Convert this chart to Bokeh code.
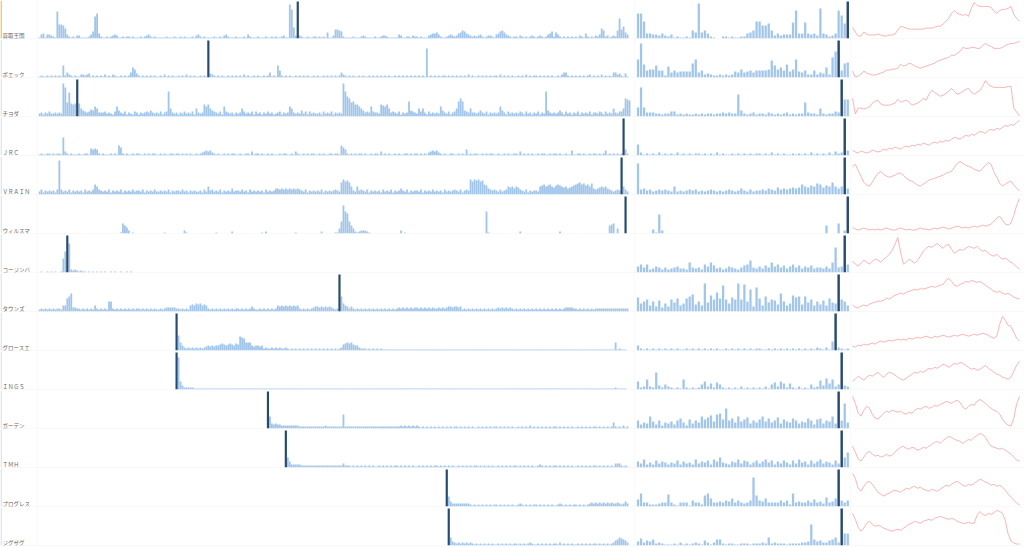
from bokeh.plotting import figure
from bokeh.layouts import gridplot
from bokeh.models import ColumnDataSource, Range1d, Span
from bokeh.core.properties import value
from bokeh.embed import file_html
from bokeh.resources import INLINE

LABELS = ["買取王国", "ポエック", "チヨダ", "ＪＲＣ", "ＶＲＡＩＮ", "ウィルスマ", "コージンバ",
          "タウンズ", "グロースエ", "ＩＮＧＳ", "ガーデン", "ＴＭＨ", "プログレス", "ジグザグ"]

# long history bars (300 per row, base-36 digits, groups of 10)
LONG_01 = "145144321r eeda421213 31111247mp 5211212343 1121221211 1212342121 1111211121 1212111213 4212111121 1213421112 1112142111 2111211212 112311ytb3 z321121122 1212161139 9872111121 1123211112 1123321111 1431122132 2121113455 6421123432 3568754323 2342123321 4578643212 2132121232 1232124572 6421212121 2132152121 324a823123 28k9c64000"
LONG_02 = "1211212121 21c2532121 1332341212 1213121321 1212125a84 2121212121 1213121211 2121312121 12121z4321 2121121212 1213121121 2112125121 c721212112 1212121121 2112121212 1253212121 1212112121 2121212112 1212121212 12121t1212 1212212121 2121213121 1212121212 2131212121 1212131212 2121212121 1213552121 2121212312 1213121215 5342141000"
LONG_03 = "3424353343 43xteodcdz d8654576a8 444534325a 6435243254 2434546434 35245p8434 2435343528 434cac8654 352a543424 3485343525 3424353423 452434a843 4363525343 3425343524 343xpkiefc ca86454a54 43cbac8454 352434f654 3858425343 43a6435245 8fif654844 3464352434 34a6425343 4354253424 35243p6434 3464253424 3524343524 4354253438 43558ihg00"
LONG_04 = "1211221212 21i4212111 2112217676 2121112121 a821211212 2112121221 1212112212 2121212112 1234545321 2112121221 1211221412 2121121211 1212211214 2112121221 1212112212 21a8621212 1221211212 2141212112 1211221212 2121213454 5321211221 1212161212 2112121221 1211212112 2141212121 1212211212 2121121151 1221211212 2121251212 1212z62000"
LONG_05 = "3524343425 y534352434 34253435a8 5434352434 3524343534 4352434353 3434352434 4353424343 3425384534 3524343634 4353425343 4342534346 6565656565 6543524343 4352434345 43cfdec843 8454352434 3425343524 3464352434 4352434353 4342534345 4352454fdf efdea96545 4353458786 8754352434 4389a89a87 9a98786789 abcab9a8b6 5678786543 454z853000"
LONG_06 = "0000000000 0000000000 0000000000 0000000000 01a8630100 0000000000 0001000000 0003100000 0000000001 0000000200 0000000000 0010200000 0000000001 0000000000 0020000001 15csmkc852 1233321000 0000000000 0030100000 0000000000 0000000000 0000000000 00000m1000 0000000000 0020000000 0000000000 0020000000 0000000000 000000089a 05000z0000"
LONG_07 = "0100101010 01elzt3232 1211010101 0101001010 0100101000 0000000000 0000000000 0000000000 0000000000 0000000000 0000000000 0000000000 0000000000 0000000000 0000000000 0000000000 0000000000 0000000000 0000000000 0000000000 0000000000 0000000000 0000000000 0000000000 0000000000 0000000000 0000000000 0000000000 0000000000 0000000000"
LONG_08 = "2323232323 3266dfi443 3232323263 23232aa323 2323232323 3232323232 2323444443 3232326768 7867632323 2323232323 3232323532 2323232323 6565656565 6323232345 5454545432 3zf8653532 3232323232 3232323232 3434343434 4343434343 3434345545 5452323232 3232323232 3434343432 3232323232 3232323232 3232344443 3232323232 3333333333 3333333000"
LONG_09 = "0000000000 0000000000 0000000000 0000000000 0000000000 0000000000 000000000z f853232323 2323454545 5676567657 6edc888545 5452322323 2322321212 1212121212 1212121212 1236787865 5322212121 2121111111 1111111111 1111111111 1111111111 1111111111 1111111111 1111111111 1111111111 1111111111 1111111111 1111111111 1111111111 8121110000"
LONG_10 = "0000000000 0000000000 0000000000 0000000000 0000000000 0000000000 000000000z w842222211 1111111111 1111111111 1111111111 1111111111 1111111111 1111111111 1111111111 1111111111 1111111111 1111111111 1111111111 1111111111 1111111111 1111111111 1111111111 1111111111 1111111111 1111111111 1111111111 1111111111 1111111111 2111110000"
LONG_11 = "0000000000 0000000000 0000000000 0000000000 0000000000 0000000000 0000000000 0000000000 0000000000 0000000000 0000000000 00000zc545 4433333333 3222222222 2222322222 222e222222 2222222222 2222222222 2232323232 3212121212 1212121212 2121212121 1212121212 2121212121 1212121312 1212121212 2121212121 1212121212 2121212126 2121312000"
LONG_12 = "0000000000 0000000000 0000000000 0000000000 0000000000 0000000000 0000000000 0000000000 0000000000 0000000000 0000000000 0000000000 0000za6333 3322222222 2222222222 2224222121 2121212121 1212121212 2121212121 1212121212 2121212121 1212121212 2121212121 1212121212 2121212121 1232121212 2121212121 1212121212 2121212121 4442121000"
LONG_13 = "0000000000 0000000000 0000000000 0000000000 0000000000 0000000000 0000000000 0000000000 0000000000 0000000000 0000000000 0000000000 0000000000 0000000000 0000000000 0000000000 0000000000 0000000000 0000000000 0000000000 00000za533 3333333212 1212121212 2121212121 1232121212 2121212121 1232121212 2121212343 4343434343 3432353000"
LONG_14 = "0000000000 0000000000 0000000000 0000000000 0000000000 0000000000 0000000000 0000000000 0000000000 0000000000 0000000000 0000000000 0000000000 0000000000 0000000000 0000000000 0000000000 0000000000 0000000000 0000000000 000000z843 2323232321 2121212121 1212121212 2121212321 1212121212 2131212121 1212121212 2121212123 5687653000"
LONG_MARK = [130, 85, 19, 294, 293, 295, 14, 151, 69, 69, 115, 124, 205, 206]

# recent bars (70 per row)
MID_01 = "pph5544353 2412112186 z685210022 121122568h hddf835344 4gs55g5453 u54235snfz"
MID_02 = "iyd788c772 b5756666ei 5734322323 2365856757 7778hc8a7d 68i6573373 54a3kqz7ef"
MID_03 = "9t94443323 3552323223 2323323343 433m632342 3324323234 23233e4332 8323354zhh"
MID_04 = "b312121312 1213121212 2121213121 1212121212 2121312121 1212121312 12131423z5"
MID_05 = "v564534545 4383434545 3434543434 5434643534 4546547565 6767a8798b a798c868z6"
MID_06 = "0000041j30 0000000000 0000000000 0000000000 0000000000 0000000000 008000a03z"
MID_07 = "6858346535 3456443a54 5386a74534 6543578c54 6475a68574 6857465745 5464ap56z8"
MID_08 = "e8ac6a5b48 5c9d68dfh7 a6s9gcjdqc 8ecscram5o d6f9cb7ia6 8gef7f9c6a 7b6d98zca6"
MID_09 = "5212121212 1212112121 2121212112 1212121212 2112121212 1212121213 21319z3212"
MID_10 = "823a32h425 32121a2121 2583627521 2121312121 2131573862 6213121523 94b6a35z43"
MID_11 = "8465c74836 5748a63958 6c9bd7ef9k 8a6c79b586 9c7a68b597 6a8576a849 a587c5z8p6"
MID_12 = "6483537465 3547364538 4657386a54 3658476357 4685736475 3748563746 8465374zaf"
MID_13 = "7d44222344 c421444164 42bd844546 58464346tb 6584444646 2d45446474 539458z646"
MID_14 = "4735462321 1121312123 2153136621 2211222122 2328232221 2222334l64 5335683zcc"
MID_MARK = [69, 66, 67, 68, 68, 69, 68, 66, 65, 67, 66, 67, 66, 67]

# price lines (60 points per row)
LINE_01 = [11,6,2,2,6,4,3,3,3,4, 3,2,2,3,3,4,8,12,11,10, 9,9,9,9,9,9,10,10,10,11, 12,12,14,17,20,25,28,25,24,23, 24,22,30,36,33,32,32,32,32,31, 27,25,28,29,29,30,32,24,20,17]
LINE_02 = [6,0,1,3,6,4,3,2,2,3, 4,5,7,7,8,8,9,13,11,12, 14,13,11,10,9,10,11,12,13,14, 16,17,18,19,20,22,22,24,26,30, 29,29,30,30,29,29,32,34,32,31, 29,29,29,30,32,33,34,34,35,36]
LINE_03 = [18,2,8,8,7,8,9,13,15,16, 12,11,11,11,12,13,17,14,15,16, 14,11,12,13,15,18,16,22,26,24, 22,20,21,23,25,28,25,22,23,25, 27,28,24,22,24,26,30,36,32,30, 29,29,29,29,29,30,30,8,4,0]
LINE_04 = [5,3,2,4,3,2,3,5,4,3, 4,6,5,7,6,8,7,6,8,9, 8,10,9,11,10,12,11,10,12,13, 12,14,13,15,14,16,18,17,16,18, 20,19,21,20,22,24,23,22,25,26, 25,27,26,28,30,29,31,30,33,35]
LINE_05 = [28,30,24,18,12,9,8,12,17,21, 23,20,18,17,18,19,21,21,19,16, 14,13,11,9,8,10,12,14,15,16, 17,18,19,21,22,23,27,31,33,31, 29,28,27,25,24,23,26,29,32,30, 22,17,11,8,10,12,13,9,6,3]
LINE_06 = [6,4,3,4,5,4,3,4,3,4, 3,4,5,4,3,3,4,5,4,3, 4,3,3,4,5,4,4,3,4,5, 4,5,6,5,4,5,6,7,6,5, 6,5,6,7,6,7,8,7,8,9, 12,15,17,13,9,8,10,18,28,35]
LINE_07 = [11,8,6,9,12,10,8,11,13,12, 10,13,15,18,22,28,35,20,8,10, 13,11,9,12,16,21,24,26,25,27, 29,26,24,27,28,23,19,21,23,22, 24,26,25,24,26,23,21,22,19,17, 16,18,15,13,14,12,10,8,5,3]
LINE_08 = [6,4,3,5,6,5,7,8,9,10, 10,11,13,12,14,16,17,18,17,19, 20,21,22,21,23,22,23,24,25,24, 25,26,27,31,33,30,26,25,27,28, 30,29,31,30,29,30,28,26,24,22, 20,19,20,18,17,18,16,14,13,12]
LINE_09 = [4,3,5,4,6,5,6,7,6,8, 9,8,9,10,9,10,11,10,11,10, 12,11,12,13,12,13,14,13,12,14, 13,14,15,14,13,14,15,14,15,16, 15,14,15,16,15,16,17,16,15,13, 12,14,26,34,30,25,24,18,12,9]
LINE_10 = [8,10,13,11,9,12,14,13,15,17, 14,12,15,17,16,14,12,10,9,11, 13,15,17,16,18,17,19,21,20,22, 21,23,25,24,22,24,26,25,27,26, 24,22,20,21,19,20,22,24,21,19, 17,15,14,12,11,10,12,18,24,28]
LINE_11 = [32,25,15,12,18,22,20,14,10,9, 12,15,17,16,18,17,16,17,15,14, 16,15,18,20,19,21,22,20,21,23, 22,24,25,27,26,25,27,28,26,21, 19,22,24,23,27,29,27,25,22,20, 18,17,14,9,5,3,2,10,24,32]
LINE_12 = [21,15,8,6,10,14,16,13,11,12, 10,11,13,11,12,15,18,20,21,19, 18,20,19,17,18,20,19,21,23,25, 26,24,27,29,31,30,28,27,26,24, 26,28,27,30,32,34,33,30,25,21, 20,19,18,19,17,15,13,10,7,6]
LINE_13 = [33,28,18,15,20,24,25,22,18,14, 12,10,12,13,15,16,15,14,16,18, 17,19,20,18,19,17,16,15,17,16, 15,17,19,21,20,22,24,25,23,21, 20,22,21,23,25,27,26,24,23,21, 22,20,21,19,16,12,9,6,3,1]
LINE_14 = [32,26,18,14,17,22,24,21,19,20, 19,17,16,15,14,15,16,15,17,19, 21,22,24,23,22,24,25,26,25,27, 28,29,28,27,26,27,26,24,23,22, 22,23,22,22,30,34,31,30,32,31, 33,35,34,32,25,11,4,2,1,1]

LONG_SERIES = [LONG_01, LONG_02, LONG_03, LONG_04, LONG_05, LONG_06, LONG_07,
               LONG_08, LONG_09, LONG_10, LONG_11, LONG_12, LONG_13, LONG_14]
MID_SERIES = [MID_01, MID_02, MID_03, MID_04, MID_05, MID_06, MID_07,
              MID_08, MID_09, MID_10, MID_11, MID_12, MID_13, MID_14]
LINE_SERIES = [LINE_01, LINE_02, LINE_03, LINE_04, LINE_05, LINE_06, LINE_07,
               LINE_08, LINE_09, LINE_10, LINE_11, LINE_12, LINE_13, LINE_14]

LIGHT = "#a2c6ea"
DARK = "#264a70"
LINE_COLOR = "#f7a8a8"
SEP = "#e8e8e8"
LABEL_COLOR = "#666666"
SELECTED = "#f4c04e"
STRIP = "#dde3ea"
ROW_H = 39
TOP = 38


def decode(s, n):
    vals = [int(c, 36) for c in s.replace(" ", "")]
    return (vals + [0] * n)[:n]


def cell(width, xr, yr, right_border):
    p = figure(width=width, height=ROW_H, x_range=xr, y_range=yr,
               x_axis_type=None, y_axis_type=None, toolbar_location=None,
               output_backend="svg", min_border_left=0, min_border_right=right_border,
               min_border_top=0, min_border_bottom=1, border_fill_color=SEP,
               background_fill_color="white", outline_line_color=None)
    return p


def bars(p, values, mark, width_light, width_dark):
    xs = [i for i in range(len(values)) if i != mark]
    tops = [values[i] for i in xs]
    p.vbar(x="x", top="top", width=width_light, bottom=0,
           source=ColumnDataSource(dict(x=xs, top=tops)),
           fill_color=LIGHT, line_color=None)
    p.vbar(x=[mark], top=[TOP - 1], width=width_dark, bottom=0,
           fill_color=DARK, line_color=None)


rows = []
for r, name in enumerate(LABELS):
    lab = cell(38, Range1d(0, 37), Range1d(0, TOP), 1)
    lab.add_layout(Span(location=0.6, dimension="height",
                        line_color=SELECTED if r == 0 else STRIP, line_width=1.5))
    lab.text(x=[2], y=[3], text=[name], text_font=value("Noto Sans CJK JP"),
             text_font_size="5.5px", text_color=LABEL_COLOR,
             text_baseline="alphabetic", text_align="left")

    long_vals = decode(LONG_SERIES[r], 300)
    pl = cell(597, Range1d(-0.5, 299.5), Range1d(0, TOP), 1)
    bars(pl, long_vals, LONG_MARK[r], 0.92, 1.1)

    mid_vals = decode(MID_SERIES[r], 70)
    pm = cell(216, Range1d(-0.82, 69.9), Range1d(0, TOP), 1)
    bars(pm, mid_vals, MID_MARK[r], 0.75, 0.8)

    line_vals = LINE_SERIES[r]
    pr = cell(173, Range1d(-0.353, 60.78), Range1d(-0.5, TOP), 0)
    pr.line(x=list(range(len(line_vals))), y=line_vals, line_color=LINE_COLOR,
            line_width=0.9, line_alpha=0.95)

    rows.append([lab, pl, pm, pr])

grid = gridplot(rows, toolbar_location=None)

html = file_html(grid, INLINE, title="chart")
html = html.replace("<body>", '<body style="margin:0;overflow:hidden;">', 1)
open("out.html", "w").write(html)
